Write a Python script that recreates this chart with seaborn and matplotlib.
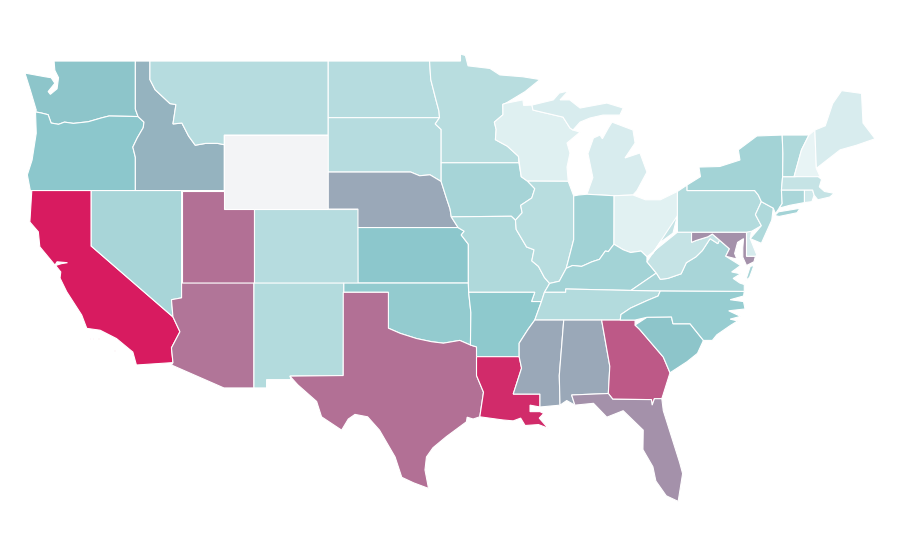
import matplotlib
matplotlib.use("Agg")
import matplotlib.pyplot as plt
from matplotlib.colors import Normalize
import numpy as np
import seaborn as sns

# values per state; WY has no value
states = ["WA", "OR", "CA", "ID", "NV", "MT", "WY", "UT", "AZ", "CO", "NM", "ND", "SD", "NE", "KS", "OK", "TX",
          "MN", "IA", "MO", "AR", "LA", "WI", "IL", "MI", "IN", "OH", "KY", "TN", "MS", "AL", "GA", "FL", "SC",
          "NC", "VA", "WV", "MD", "DE", "PA", "NJ", "NY", "CT", "RI", "MA", "VT", "NH", "ME"]
values = [51, 50, 100, 56, 38, 32, np.nan, 75, 74, 32, 33, 32, 32, 59, 50, 47, 75,
          31, 39, 35, 49, 95, 14, 31, 17, 41, 13, 40, 33, 59, 59, 82, 66, 51,
          45, 38, 25, 66, 18, 33, 35, 40, 37, 21, 25, 35, 10, 17]
palette_stops = ["#ffffff", "#8cc8cc", "#d81b60"]
missing_color = "#f3f4f6"

# shared borders, lon/lat
mt_id = [(-116.05, 49), (-116.05, 48.0), (-115.7, 47.45), (-114.7, 46.7), (-114.3, 46.65), (-114.5, 45.6),
         (-113.9, 45.65), (-113.45, 44.95), (-113.0, 44.45), (-112.3, 44.55), (-111.5, 44.55), (-111.05, 44.48)]
snake = [(-117.03, 43.8), (-117.2, 44.35), (-116.9, 44.85), (-116.5, 45.4), (-116.45, 45.7), (-116.85, 46.0)]
columbia = [(-116.85, 46.0), (-118.8, 46.03), (-119.3, 45.93), (-120.2, 45.72), (-121.2, 45.63), (-121.8, 45.7),
            (-122.2, 45.58), (-122.7, 45.65), (-122.9, 46.1), (-123.4, 46.2), (-123.75, 46.25)]
colorado_r = [(-114.5, 35.17), (-114.03, 34.37), (-114.6, 33.5), (-114.5, 32.7)]
red_river = [(-100, 34.56), (-99.2, 34.28), (-98.1, 34.0), (-97.1, 33.83), (-96.3, 33.75), (-95.2, 33.9),
             (-94.48, 33.65)]
sabine = [(-94.07, 33.02), (-94.07, 32.0), (-93.6, 31.1), (-93.85, 29.77)]
missouri_r = [(-96.45, 42.49), (-96.1, 41.6), (-95.85, 41.0), (-95.77, 40.58), (-95.31, 40.0)]
mo_ks = [(-95.31, 40.0), (-94.9, 39.8), (-95.1, 39.6), (-94.62, 39.1), (-94.62, 37)]
sd_mn = [(-96.56, 45.94), (-96.85, 45.6), (-96.45, 45.3), (-96.45, 43.5)]
nd_mn = [(-97.23, 49), (-97.15, 48.0), (-96.8, 46.9), (-96.6, 46.3), (-96.56, 45.94)]
mn_wi = [(-92.1, 46.72), (-92.3, 46.66), (-92.29, 46.1), (-92.87, 45.7), (-92.75, 45.3), (-92.8, 44.75),
         (-92.0, 44.4), (-91.25, 43.85), (-91.22, 43.5)]
miss_ia_wi = [(-91.22, 43.5), (-91.06, 42.75), (-90.64, 42.51)]
miss_ia_il = [(-90.64, 42.51), (-90.15, 42.1), (-90.35, 41.6), (-91.1, 41.2), (-91.0, 40.8), (-91.45, 40.4)]
miss_mo_il = [(-91.45, 40.4), (-91.4, 39.9), (-90.7, 38.95), (-90.2, 38.8), (-90.35, 38.2), (-89.9, 37.9),
              (-89.5, 37.3), (-89.15, 36.98)]
miss_south = [(-89.5, 36.5), (-89.7, 36.0)]
miss_ar_ms = [(-90.15, 35.0), (-90.6, 34.5), (-91.2, 33.75), (-91.2, 33.02)]
ohio_r = [(-89.15, 36.98), (-88.5, 37.1), (-88.03, 37.8), (-87.6, 37.95), (-87.0, 37.9), (-86.3, 38.15),
          (-85.8, 38.28), (-85.4, 38.73), (-85.2, 38.7), (-84.82, 39.1)]
ohio_upper = [(-84.82, 39.1), (-84.2, 38.8), (-83.7, 38.65), (-83.0, 38.73), (-82.6, 38.42)]
ohio_wv = [(-82.6, 38.42), (-82.2, 38.6), (-81.7, 39.2), (-80.85, 39.7), (-80.55, 40.64)]
wabash = [(-88.03, 37.8), (-87.9, 38.2), (-87.53, 39.35), (-87.53, 41.71)]
wi_mi = [(-90.34, 46.62), (-90.27, 46.35), (-88.25, 45.97), (-87.78, 45.38), (-87.58, 45.27)]
va_wv = [(-81.97, 37.54), (-81.7, 37.2), (-81.2, 37.25), (-80.3, 37.5), (-79.95, 38.1), (-79.3, 38.42),
         (-78.87, 38.76), (-78.35, 39.4), (-77.83, 39.13), (-77.72, 39.32)]
tn_nc = [(-84.4, 35), (-84.35, 35.3), (-83.7, 35.65), (-82.6, 36.05), (-81.85, 36.3), (-81.7, 36.58)]
ga_sc = [(-83.4, 34.73), (-83.1, 34.5), (-81.5, 33.0), (-81.05, 32.15)]
ga_fl = [(-85.2, 31.03), (-84.9, 30.72), (-82.3, 30.7), (-82.25, 30.4), (-82.1, 30.75), (-81.6, 30.75)]
ny_vt = [(-73.5, 45), (-73.45, 44), (-73.47, 42.75), (-73.55, 42.03), (-73.5, 41.3), (-73.7, 41.05)]
vt_nh = [(-71.7, 45), (-72.2, 44.2), (-72.7, 42.75)]
pa_nj = [(-74.9, 41.4), (-75.3, 40.7), (-74.9, 40.1), (-75.55, 39.8)]

outlines = {
    "WA": [[(-122.5, 49), (-122.45, 48.5), (-122.2, 48.1), (-122.3, 47.5), (-122.75, 47.2), (-122.9, 47.35),
            (-122.45, 47.8), (-122.7, 48.1), (-123.1, 48.15), (-124.46, 48.35), (-124.1, 47.43), (-123.7, 46.35)]
           + columbia[::-1] + [(-117.03, 46.4), (-117.03, 49)]],
    "OR": [[(-124.1, 42), (-117.03, 42)] + snake + columbia[1:]
           + [(-123.7, 45.1), (-123.98, 43.65), (-124.3, 42.85)]],
    "CA": [[(-124.0, 42), (-120, 42), (-120, 39)] + colorado_r
           + [(-116.96, 32.57), (-117.2, 33.27), (-118.3, 34.0), (-119.4, 34.45), (-120.3, 34.55), (-120.64, 35.27),
              (-121.65, 36.53), (-122.1, 37.27), (-122.05, 37.6), (-122.4, 37.95), (-122.0, 38.05), (-121.6, 38.1),
              (-122.3, 38.15), (-122.44, 37.97), (-123.46, 38.96), (-123.56, 39.77), (-124.13, 40.3)],
           [(-120.05, 34.05), (-119.9, 34.05), (-119.9, 33.95), (-120.05, 33.95)],
           [(-119.55, 34.03), (-119.45, 34.03), (-119.45, 33.98), (-119.55, 33.98)],
           [(-118.45, 33.4), (-118.38, 33.4), (-118.38, 33.33), (-118.45, 33.33)]],
    "ID": [[(-117.03, 49)] + mt_id + [(-111.05, 42), (-117.03, 42)] + snake + [(-117.03, 46.4)]],
    "NV": [[(-120, 42), (-113.92, 42), (-113.92, 36.2), (-114.6, 36.1), (-114.5, 35.17), (-120, 39)]],
    "MT": [mt_id + [(-111.05, 45), (-104.05, 45), (-104.05, 49)]],
    "WY": [[(-111.05, 45), (-104.05, 45), (-104.05, 41), (-111.05, 41)]],
    "UT": [[(-113.92, 42), (-111.05, 42), (-111.05, 41), (-109.05, 41), (-109.05, 37), (-113.92, 37)]],
    "AZ": [[(-113.92, 37), (-109.05, 37), (-109.05, 31.33), (-111.07, 31.33), (-114.6, 32.57)]
           + colorado_r[::-1] + [(-114.6, 36.1), (-113.92, 36.2)]],
    "CO": [[(-109.05, 41), (-102.05, 41), (-102.05, 37), (-109.05, 37)]],
    "NM": [[(-109.05, 37), (-103.0, 37), (-103.04, 32), (-106.63, 31.97), (-106.55, 31.78), (-108.2, 31.78),
            (-108.2, 31.33), (-109.05, 31.33)]],
    "ND": [[(-104.05, 49)] + nd_mn + [(-104.05, 45.94)]],
    "SD": [[(-104.05, 45.94)] + sd_mn + [(-96.45, 42.49), (-97.2, 42.85), (-97.9, 42.8), (-98.5, 43),
                                         (-104.05, 43)]],
    "NE": [[(-104.05, 43), (-98.5, 43), (-97.9, 42.8), (-97.2, 42.85)] + missouri_r
           + [(-102.05, 40), (-102.05, 41), (-104.05, 41)]],
    "KS": [[(-102.05, 40)] + mo_ks + [(-102.04, 37)]],
    "OK": [[(-103, 37), (-94.62, 37), (-94.6, 36.5), (-94.45, 35.4)] + red_river[::-1]
           + [(-100, 36.5), (-103, 36.5)]],
    "TX": [[(-103.04, 36.5), (-100, 36.5)] + red_river + [(-94.07, 33.55)] + sabine
           + [(-94.3, 29.65), (-94.7, 29.75), (-94.75, 29.5), (-96.1, 28.7), (-97.0, 28.1), (-97.44, 27.6), (-97.54, 26.9),
              (-97.3, 25.9), (-98.3, 26.2), (-99.1, 26.5), (-99.55, 27.6), (-100.6, 29.05), (-101.4, 29.77), (-102.25, 29.9),
              (-102.7, 29.65), (-103.15, 29.05), (-104.5, 29.77), (-104.83, 30.6), (-106.1, 31.5), (-106.63, 31.97),
              (-103.04, 32)]],
    "MN": [[(-97.23, 49), (-95.15, 49), (-95.15, 49.38), (-94.82, 49.3), (-94.64, 48.74), (-93.17, 48.6),
            (-92.5, 48.25), (-90.95, 48.15), (-89.8, 48.0), (-90.8, 47.35)] + mn_wi
           + [(-96.45, 43.5), (-96.45, 45.3), (-96.85, 45.6)] + nd_mn[::-1]],
    "IA": [[(-96.45, 43.5)] + miss_ia_wi + miss_ia_il[1:] + [(-91.73, 40.61), (-95.77, 40.58), (-95.85, 41.0),
                                                              (-96.1, 41.6), (-96.45, 42.49)]],
    "MO": [[(-95.77, 40.58), (-91.73, 40.61)] + miss_mo_il + miss_south
           + [(-90.37, 36.0), (-90.15, 36.5), (-94.6, 36.5)] + mo_ks[::-1]],
    "AR": [[(-94.6, 36.5), (-90.15, 36.5), (-90.37, 36.0), (-89.7, 36.0)] + miss_ar_ms
           + [(-94.07, 33.02), (-94.07, 33.55), (-94.48, 33.65), (-94.45, 35.4)]],
    "LA": [[(-94.07, 33.02), (-91.2, 33.02), (-91.04, 32.4), (-91.6, 31.0), (-89.8, 31.0), (-89.8, 30.3),
            (-90.47, 30.4), (-90.47, 30.05), (-89.8, 30.05), (-89.55, 29.95), (-89.85, 29.7), (-89.25, 29.15), (-89.9, 29.35),
            (-90.8, 29.3), (-91.1, 29.7), (-91.6, 29.55), (-92.3, 29.6)] + sabine[::-1]],
    "WI": [[(-92.1, 46.72), (-91.9, 46.75), (-90.95, 46.9), (-90.9, 46.6)] + wi_mi
           + [(-87.1, 45.16), (-87.98, 44.57), (-87.78, 44.03), (-87.98, 43.27), (-87.9, 42.5)]
           + miss_ia_wi[::-1][:2] + mn_wi[::-1][1:]],
    "IL": [[(-90.64, 42.51), (-87.9, 42.5), (-87.53, 41.71)] + wabash[::-1] + [(-88.5, 37.1)]
           + miss_mo_il[::-1] + miss_ia_il[::-1][1:]],
    "MI": [wi_mi + [(-87.1, 45.7), (-86.44, 45.92), (-85.56, 46.08), (-84.42, 46.08), (-84.2, 46.46), (-85.3, 46.73),
                    (-87.1, 46.46), (-87.8, 46.9), (-88.45, 46.9), (-87.9, 47.38), (-88.5, 47.27), (-88.9, 46.9)],
           [(-84.95, 45.7), (-85.2, 45.38), (-85.6, 44.8), (-85.76, 45.0), (-86.2, 44.84), (-86.57, 44.0), (-86.24, 42.7),
            (-86.64, 41.8), (-84.81, 41.72), (-83.54, 41.76), (-83.27, 42.0), (-82.6, 43.0), (-83.07, 44.03),
            (-84.08, 43.76), (-83.4, 44.57), (-83.54, 45.27)]],
    "IN": [[(-87.53, 41.71), (-87.2, 41.76), (-86.64, 41.8), (-84.81, 41.72)] + ohio_r[::-1][:-2]
           + wabash[1:]],
    "OH": [[(-84.81, 41.72), (-83.54, 41.76), (-82.7, 41.5), (-81.7, 41.5), (-80.55, 41.95)] + ohio_wv[::-1]
           + ohio_upper[::-1]],
    "KY": [ohio_r + ohio_upper[1:] + [(-82.6, 38.15), (-81.97, 37.54), (-83.68, 36.6), (-88.07, 36.68),
                                      (-88.07, 36.5), (-89.5, 36.5)]],
    "TN": [[(-89.5, 36.5), (-88.07, 36.5), (-88.07, 36.68), (-83.68, 36.6)] + tn_nc[::-1]
           + [(-88.2, 35), (-90.15, 35), (-89.7, 36.0)]],
    "MS": [[(-90.15, 35), (-88.2, 35), (-88.5, 32.0), (-88.45, 30.4), (-89.8, 30.3), (-89.8, 31.0), (-91.6, 31.0),
            (-91.04, 32.4), (-91.2, 33.02), (-91.2, 33.75), (-90.6, 34.5)]],
    "AL": [[(-88.2, 35), (-85.65, 35), (-85.1, 32.5), (-85.2, 31.03), (-87.67, 30.95), (-87.45, 30.4),
            (-88.0, 30.65), (-88.45, 30.4), (-88.5, 32.0)]],
    "GA": [[(-85.65, 35), (-83.4, 35)] + ga_sc + [(-81.5, 31.0)] + ga_fl[::-1] + [(-85.1, 32.5)]],
    "FL": [[(-87.67, 30.95)] + ga_fl + [(-81.5, 30.1), (-80.4, 27.3), (-80.2, 26.7), (-80.5, 25.2), (-81.3, 25.5),
                                        (-82.0, 26.3), (-82.2, 27.07), (-82.87, 28.0), (-82.85, 29.05), (-84.2, 30.1),
                                        (-85.3, 29.75), (-86.2, 30.5), (-87.45, 30.4)]],
    "SC": [[(-83.4, 34.73), (-82.6, 35.15), (-80.95, 35.17), (-80.85, 34.8), (-79.7, 34.8), (-78.8, 33.9),
            (-79.2, 33.2), (-79.9, 32.75)] + ga_sc[::-1]],
    "NC": [tn_nc + [(-76.05, 36.55), (-76.1, 36.3), (-77.0, 36.1), (-76.1, 36.0), (-76.0, 35.6), (-77.1, 35.5), (-76.3, 35.2),
                    (-77.0, 35.05), (-76.5, 34.95), (-77.0, 34.7), (-77.9, 34.2),
                    (-78.2, 33.9), (-78.8, 33.9), (-79.7, 34.8), (-80.85, 34.8), (-80.95, 35.17), (-82.6, 35.15),
                    (-83.4, 35)]],
    "VA": [[(-83.68, 36.6)] + va_wv + [(-77.05, 38.85), (-77.3, 38.45), (-76.9, 38.25), (-76.3, 37.95), (-76.9, 37.6),
                                       (-76.3, 37.5), (-76.8, 37.25), (-76.35, 37.0), (-76.05, 36.92), (-76.05, 36.55),
                                       (-81.7, 36.58)],
           [(-75.95, 37.15), (-75.65, 37.9), (-75.4, 37.95), (-75.7, 37.3)]],
    "WV": [ohio_wv[::-1] + [(-80.55, 39.75), (-79.6, 39.75), (-79.6, 39.2), (-79.3, 39.3), (-78.5, 39.5),
                            (-78.2, 39.65)] + va_wv[::-1] + [(-82.6, 38.15)]],
    "MD": [[(-79.6, 39.75), (-75.9, 39.75), (-75.9, 38.45), (-75.3, 38.45), (-75.4, 38.15), (-75.9, 37.95),
            (-76.15, 38.4), (-76.15, 38.9), (-76.1, 39.4), (-76.5, 39.2), (-76.7, 38.6), (-76.55, 38.3),
            (-77.3, 38.45), (-77.05, 38.85), (-77.72, 39.32), (-78.2, 39.65), (-78.5, 39.5), (-79.3, 39.3),
            (-79.6, 39.2)]],
    "DE": [[(-75.9, 39.75), (-75.55, 39.85), (-75.65, 39.4), (-75.2, 38.5), (-75.3, 38.45), (-75.9, 38.45)]],
    "PA": [[(-80.55, 41.95), (-79.9, 42.3), (-79.9, 42.0), (-75.35, 42.0), (-75.1, 41.75)] + pa_nj
           + [(-75.9, 39.75), (-80.55, 39.75)]],
    "NJ": [pa_nj[:3] + [(-75.65, 39.4), (-74.9, 39.15), (-74.2, 40.4), (-74.1, 41.05)]],
    "NY": [[(-79.9, 42.3), (-79.0, 42.75), (-79.1, 43.27), (-77.7, 43.3), (-76.34, 43.65), (-76.45, 44.2),
            (-75.2, 44.95)] + ny_vt + [(-73.95, 40.75), (-74.1, 41.05), (-74.9, 41.4), (-75.1, 41.75), (-75.35, 42.0),
                                       (-79.9, 42.0)],
           [(-74.0, 40.65), (-73.75, 40.85), (-72.3, 41.04), (-72.5, 40.8), (-73.7, 40.6)]],
    "CT": [[(-73.55, 42.03), (-72.0, 42.03), (-72.0, 41.35), (-73.0, 41.2), (-73.7, 41.05), (-73.5, 41.3)]],
    "RI": [[(-72.0, 42.03), (-71.45, 42.03), (-71.35, 41.75), (-71.5, 41.4), (-72.0, 41.35)]],
    "MA": [[(-73.47, 42.75), (-72.7, 42.75), (-71.2, 42.84), (-70.85, 42.6), (-71.0, 42.2), (-70.65, 41.95), (-70.0, 41.85),
            (-70.3, 41.65), (-71.1, 41.5), (-71.35, 41.75), (-71.45, 42.03), (-73.55, 42.03)]],
    "VT": [[(-73.5, 45)] + vt_nh + [(-73.47, 42.75), (-73.45, 44)]],
    "NH": [vt_nh + [(-70.95, 42.75), (-71.2, 43.2), (-71.3, 45.27)]],
    "ME": [[(-71.3, 45.27), (-71.2, 43.2), (-69.6, 44.2), (-68.5, 44.45), (-67.25, 44.8), (-68.06, 45.65),
            (-68.16, 47.25), (-69.5, 47.4), (-70.1, 46.7), (-70.6, 45.5)]],
}

sns.set_theme(style="white")
cmap = sns.blend_palette(palette_stops, n_colors=256, as_cmap=True)
cmap.set_bad(missing_color)
norm = Normalize(0, 100)

fig, ax = plt.subplots(figsize=(9, 5.6), dpi=100)
fig.subplots_adjust(left=0, right=1, bottom=0, top=1)

for state, value in zip(states, values):
    for ring in outlines[state]:
        lons, lats = zip(*ring)
        ax.fill(lons, lats, facecolor=cmap(norm(value)), edgecolor="white", linewidth=0.8)

ax.set_xlim(-126.14, -65.57)
ax.set_ylim(22.03, 52.3)
ax.axis("off")
fig.savefig("out.png", dpi=100, facecolor="white")
plt.close(fig)
